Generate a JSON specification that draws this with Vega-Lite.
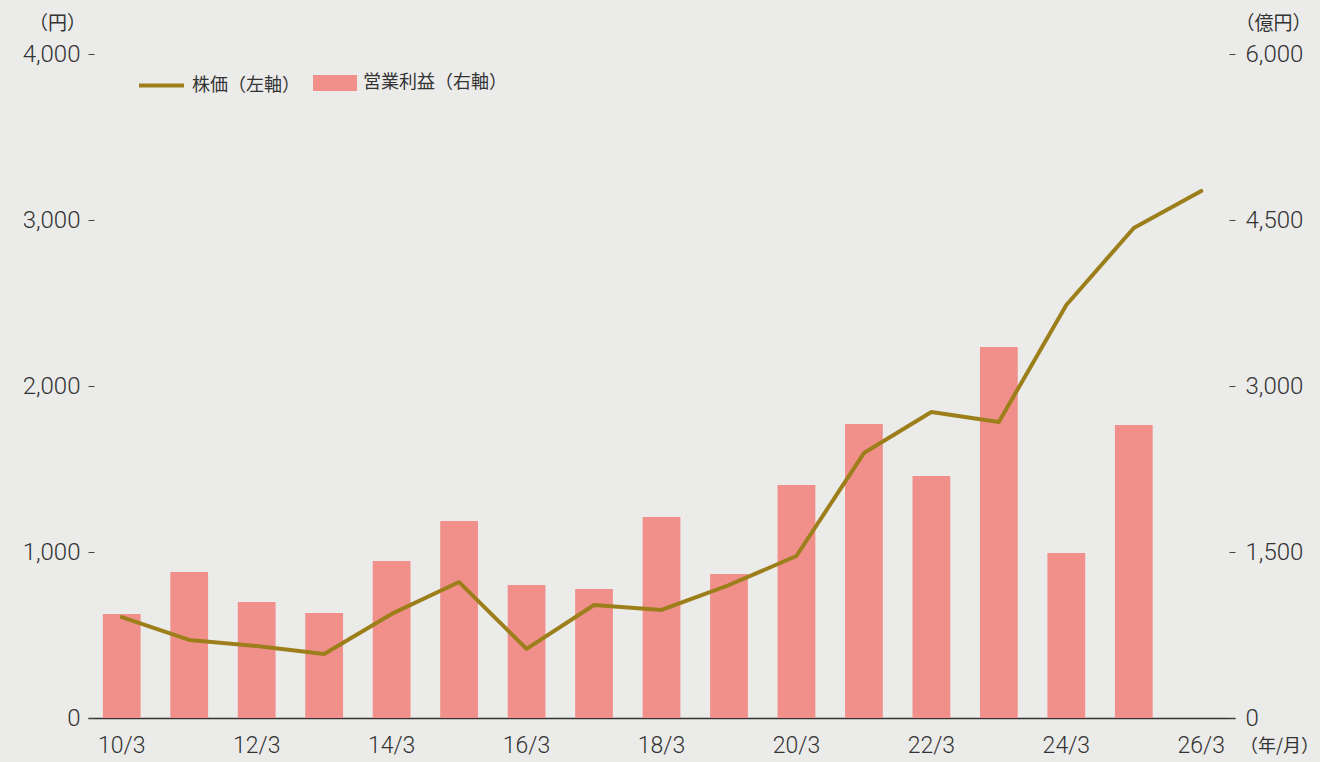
{
  "$schema": "https://vega.github.io/schema/vega-lite/v6.json",
  "autosize": {"type": "none"},
  "width": 1147,
  "height": 664,
  "padding": {"left": 88, "top": 54, "right": 85, "bottom": 44},
  "background": "#ebebea",
  "config": {
    "font": "Noto Sans CJK JP",
    "view": {"stroke": null},
    "axis": {"labelFont": "Roboto", "labelFontWeight": 300, "titleFont": "Noto Sans CJK JP", "labelColor": "#333333", "titleColor": "#333333", "labelFontSize": 24, "titleFontSize": 18, "titleFontWeight": "normal", "grid": false}
  },
  "data": {
    "values": [
      {"period": "10/3", "price": 608, "profit": 940},
      {"period": "11/3", "price": 470, "profit": 1319},
      {"period": "12/3", "price": 434, "profit": 1048},
      {"period": "13/3", "price": 386, "profit": 949},
      {"period": "14/3", "price": 627, "profit": 1419},
      {"period": "15/3", "price": 819, "profit": 1780},
      {"period": "16/3", "price": 416, "profit": 1202},
      {"period": "17/3", "price": 681, "profit": 1166},
      {"period": "18/3", "price": 651, "profit": 1816},
      {"period": "19/3", "price": 801, "profit": 1301},
      {"period": "20/3", "price": 976, "profit": 2105},
      {"period": "21/3", "price": 1596, "profit": 2657},
      {"period": "22/3", "price": 1843, "profit": 2187},
      {"period": "23/3", "price": 1783, "profit": 3352},
      {"period": "24/3", "price": 2488, "profit": 1491},
      {"period": "25/3", "price": 2952, "profit": 2648},
      {"period": "26/3", "price": 3175, "profit": null}
    ]
  },
  "encoding": {
    "x": {
      "field": "period",
      "type": "ordinal",
      "sort": null,
      "scale": {"paddingInner": 0.44, "paddingOuter": 0.22},
      "axis": {
        "values": ["10/3", "12/3", "14/3", "16/3", "18/3", "20/3", "22/3", "24/3", "26/3"],
        "labelAngle": 0,
        "labelFontSize": 23,
        "ticks": false,
        "labelPadding": 16,
        "domainColor": "#333333",
        "domainWidth": 1.5,
        "title": "（年/月）",
        "titleAngle": 0,
        "titleX": 1191,
        "titleY": 28,
        "titleAlign": "center",
        "titleBaseline": "middle",
        "titleFontSize": 18
      }
    }
  },
  "layer": [
    {
      "mark": {"type": "bar"},
      "encoding": {
        "y": {
          "field": "profit",
          "type": "quantitative",
          "scale": {"domain": [0, 6000]},
          "axis": {
            "orient": "right",
            "values": [0, 1500, 3000, 4500, 6000],
            "format": ",.0f",
            "domain": false,
            "tickColor": "#444444",
            "tickSize": -6,
            "labelPadding": 16,
            "title": "（億円）",
            "titleAngle": 0,
            "titleX": 38,
            "titleY": -31,
            "titleAlign": "center",
            "titleBaseline": "middle",
            "titleFontSize": 19
          }
        },
        "fill": {
          "datum": "営業利益（右軸）",
          "scale": {"range": ["#f1908a"]},
          "legend": {
            "orient": "none",
            "legendX": 225,
            "legendY": 7,
            "title": null,
            "symbolType": "M-1,-0.36H1V0.36H-1Z",
            "symbolSize": 1936,
            "symbolStrokeWidth": 0,
            "symbolOpacity": 1,
            "labelFontSize": 18,
            "labelColor": "#333333",
            "labelFont": "Noto Sans CJK JP",
            "labelOffset": 6
          }
        }
      }
    },
    {
      "mark": {"type": "line", "strokeWidth": 4, "strokeCap": "round", "strokeJoin": "round"},
      "encoding": {
        "x": {"field": "period", "type": "ordinal", "sort": null, "bandPosition": 0.5},
        "y": {
          "field": "price",
          "type": "quantitative",
          "scale": {"domain": [0, 4000]},
          "axis": {
            "orient": "left",
            "values": [0, 1000, 2000, 3000, 4000],
            "format": ",.0f",
            "domain": false,
            "tickColor": "#444444",
            "tickSize": -6,
            "labelPadding": 14,
            "title": "（円）",
            "titleAngle": 0,
            "titleX": -31,
            "titleY": -31,
            "titleAlign": "center",
            "titleBaseline": "middle",
            "titleFontSize": 19
          }
        },
        "stroke": {
          "datum": "株価（左軸）",
          "scale": {"range": ["#9c7f1b"]},
          "legend": {
            "orient": "none",
            "legendX": 49,
            "legendY": 7,
            "title": null,
            "symbolType": "stroke",
            "symbolSize": 2025,
            "symbolStrokeWidth": 4,
            "labelFontSize": 18,
            "labelColor": "#333333",
            "labelFont": "Noto Sans CJK JP",
            "labelOffset": 6
          }
        }
      }
    }
  ],
  "resolve": {"scale": {"y": "independent"}}
}
